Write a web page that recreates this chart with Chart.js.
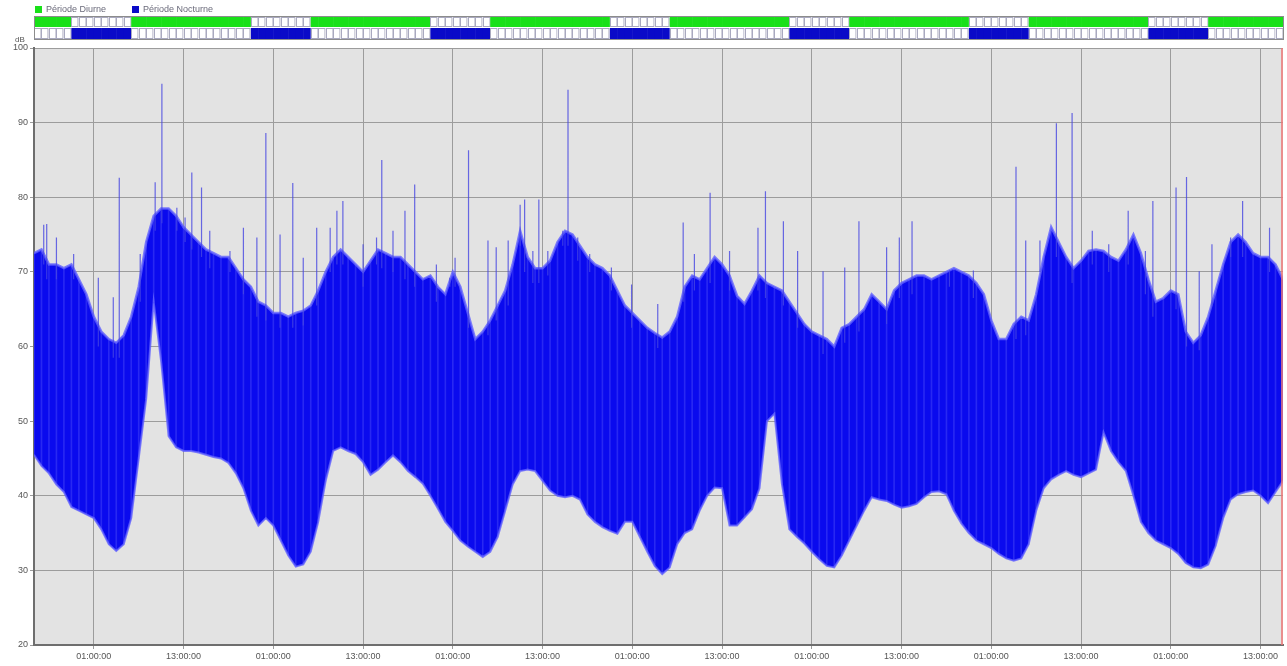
<!DOCTYPE html>
<html>
<head>
<meta charset="utf-8">
<script src="https://cdn.jsdelivr.net/npm/chart.js@4/dist/chart.umd.min.js"></script>
<style>
  html, body { margin: 0; padding: 0; background: #ffffff; }
  #wrap { width: 1287px; height: 666px; position: relative; }
</style>
</head>
<body>
<div id="wrap"><canvas id="c" width="1287" height="666"></canvas></div>
<script>
// Sound level record, one envelope value per hour; hour 0 = 17:00 on the first day.
const levelLow = [
  45.5, 44, 43, 41.5, 40.5, 38.5, 38, 37.5, 37, 35.5,
  33.5, 32.6, 33.5, 37, 45, 53, 66, 58, 48, 46.5,
  46, 46, 45.8, 45.5, 45.2, 45, 44.4, 43, 41, 38,
  36, 37, 36, 34, 32, 30.5, 30.8, 32.5, 36.5, 42,
  46, 46.5, 46, 45.6, 44.5, 42.8, 43.5, 44.5, 45.4, 44.5,
  43.3, 42.5, 41.6, 40, 38.3, 36.5, 35.3, 34, 33.2, 32.5,
  31.8, 32.5, 34.5, 38, 41.5, 43.3, 43.5, 43.3, 42, 40.7,
  40, 39.8, 40, 39.5, 37.5, 36.5, 35.8, 35.3, 34.9, 36.5,
  36.5, 34.5, 32.5, 30.6, 29.5, 30.4, 33.5, 35, 35.5, 38,
  40, 41.1, 41, 36, 36, 37.1, 38.2, 41, 50, 51,
  41.6, 35.5, 34.5, 33.6, 32.5, 31.5, 30.6, 30.4, 32, 34,
  36, 38, 39.8, 39.5, 39.3, 38.8, 38.4, 38.6, 38.9, 39.8,
  40.5, 40.6, 40.2, 38, 36.3, 35, 34, 33.5, 33, 32.2,
  31.6, 31.3, 31.6, 33.5, 38, 41, 42.2, 42.8, 43.3, 42.8,
  42.5, 43, 43.5, 48.5, 46, 44.5, 43.3, 40, 36.5, 35,
  34, 33.5, 33, 32.2, 31, 30.4, 30.3, 30.8, 33.3, 37,
  39.5, 40.2, 40.5, 40.7, 40, 39, 40.5, 42
];
const levelHigh = [
  72.5, 73, 71, 71, 70.5, 71, 69, 67, 64, 62,
  61, 60.5, 61.5, 64, 68, 74, 77.5, 78.5, 78.5, 77.5,
  76, 75, 74, 73, 72.5, 72, 72, 70.5, 69, 68,
  66, 65.5, 64.5, 64.5, 64, 64.5, 64.8, 65.5, 67.5, 70,
  72, 73, 72, 71, 70, 71.5, 73, 72.5, 72, 72,
  71, 70, 69, 69.5, 68, 67, 70, 68, 64.5, 61,
  62, 63.5, 65.5, 67.5, 71, 75.5, 72, 70.5, 70.5, 71.5,
  74, 75.5, 75, 73.5, 72, 71, 70.5, 69.5, 67.5, 65.5,
  64.5, 63.5, 62.5, 61.8, 61.2, 62, 64, 68, 69.5, 69,
  70.5, 72, 71, 69.5, 66.8, 65.7, 67.5, 69.5, 68.5, 68,
  67.5, 66, 64.5, 63, 62, 61.5, 61, 60, 62.5, 63,
  64, 65, 67, 66, 65, 67.5, 68.5, 69, 69.5, 69.5,
  69, 69.5, 70, 70.5, 70, 69.5, 68.5, 67, 63.5, 61,
  61, 63, 64, 63.5, 67, 72, 76, 74, 72, 70.5,
  71.5, 72.8, 73, 72.8, 72, 71.5, 73, 75, 72.5, 69,
  66, 66.5, 67.5, 67, 62, 60.5, 61.5, 64, 67.5, 71,
  74, 75, 74, 72.5, 72, 72, 71, 69
];

// Short noise events rising above the envelope
const peakHours = [
  1.3, 1.7, 3.0, 5.3, 8.6, 10.6, 11.4, 14.2, 16.2, 17.1,
  19.1, 20.2, 21.1, 22.4, 23.5, 26.2, 28, 29.8, 31.0, 32.9,
  34.6, 36, 37.8, 39.6, 40.5, 41.3, 44, 45.8, 46.5, 48,
  49.6, 50.9, 53.8, 55.6, 56.3, 58.1, 60.7, 61.8, 63.4, 65,
  65.6, 66.7, 67.5, 68.7, 70.7, 71.4, 72.7, 74.3, 77.2, 79.9,
  83.4, 86.8, 88.3, 90.4, 93, 96.8, 97.8, 100.2, 102.1, 105.5,
  108.4, 110.3, 114, 115.7, 117.4, 122.4, 125.6, 131.3, 132.6, 134.5,
  136.7, 138.8, 141.5, 143.7, 146.3, 148.6, 149.6, 152.7, 154.1, 155.8,
  157.5, 160, 161.6, 165.2
];
const peakLevels = [
  76.3, 76.4, 74.6, 72.4, 69.2, 66.6, 82.6, 72.4, 82, 95.2,
  78.6, 77.3, 83.3, 81.3, 75.5, 72.8, 75.9, 74.6, 88.6, 75,
  81.9, 71.9, 75.9, 75.9, 78.2, 79.5, 73.7, 74.6, 85, 75.5,
  78.2, 81.7, 71, 69.2, 71.9, 86.3, 74.2, 73.3, 74.2, 79,
  79.7, 72.8, 79.7, 72.8, 75.5, 94.4, 74.6, 72.4, 70.6, 68.3,
  65.7, 76.6, 72.4, 80.6, 72.8, 75.9, 80.8, 76.8, 72.8, 70.1,
  70.6, 76.8, 73.3, 74.6, 76.8, 70.2, 70.2, 84.1, 74.2, 74.2,
  89.9, 91.3, 75.5, 73.7, 78.2, 72.8, 79.5, 81.3, 82.7, 70.1,
  73.7, 74.6, 79.5, 75.9
];

// Time axis ticks (hours from start) and their labels
const tickHours = [8, 20, 32, 44, 56, 68, 80, 92, 104, 116, 128, 140, 152, 164];
const tickLabels = [
  '01:00:00', '13:00:00', '01:00:00', '13:00:00', '01:00:00', '13:00:00', '01:00:00',
  '13:00:00', '01:00:00', '13:00:00', '01:00:00', '13:00:00', '01:00:00', '13:00:00'
];
const yTicks = [20, 30, 40, 50, 60, 70, 80, 90, 100];

// Night periods 22:00 - 06:00, in hours from start
const nightPeriods = [[5, 13], [29, 37], [53, 61], [77, 85], [101, 109], [125, 133], [149, 157]];
const totalHours = 167;
const legendLabels = ['Période Diurne', 'Période Nocturne'];

const BAND_BLUE = 'rgb(10,10,238)';
const EDGE_BLUE = 'rgba(95,95,255,0.8)';
const STREAK_BLUE = 'rgba(120,120,255,0.28)';
const DAY_GREEN = '#19e019';
const NIGHT_BLUE = '#0a0ac8';
const FONT = '"Liberation Sans", Arial, sans-serif';

const lowPts = levelLow.map((v, i) => ({ x: i, y: v }));
const highPts = levelHigh.map((v, i) => ({ x: i, y: v }));
// each hour's range, drawn as a faint lighter trace through the band
const rangePts = levelLow.map((v, i) => ({ x: i, y: [v, levelHigh[i]] }));
const peakPts = [];
peakHours.forEach((h, i) => {
  const base = levelHigh[Math.min(levelHigh.length - 1, Math.round(h))] - 2;
  peakPts.push({ x: h, y: base }, { x: h, y: peakLevels[i] }, { x: h, y: null });
});

const isNight = (h) => nightPeriods.some(([a, b]) => h >= a && h < b);

const plotBackground = {
  id: 'plotBackground',
  beforeDraw(chart) {
    const { ctx, chartArea: a } = chart;
    ctx.save();
    ctx.fillStyle = '#e3e3e3';
    ctx.fillRect(a.left, a.top, a.right - a.left, a.bottom - a.top);
    ctx.restore();
  }
};

const periodStrip = {
  id: 'periodStrip',
  afterDraw(chart) {
    const { ctx, chartArea: a } = chart;
    const xs = chart.scales.x;
    const rowTop = 17, rowMid = 28, rowBot = 39;
    ctx.save();
    for (let h = 0; h < totalHours; h++) {
      const x0 = xs.getPixelForValue(h);
      const x1 = xs.getPixelForValue(h + 1);
      const night = isNight(h);
      // upper row: day periods
      if (!night) {
        ctx.fillStyle = DAY_GREEN;
        ctx.fillRect(x0, rowTop, x1 - x0 + 0.5, rowMid - rowTop - 1);
      } else {
        ctx.fillStyle = '#ffffff';
        ctx.fillRect(x0, rowTop, x1 - x0, rowMid - rowTop - 1);
        ctx.strokeStyle = '#a9a9bf';
        ctx.lineWidth = 1;
        ctx.strokeRect(Math.round(x0) + 0.5, rowTop + 0.5, Math.max(1, x1 - x0 - 1), rowMid - rowTop - 2);
      }
      // lower row: night periods
      if (night) {
        ctx.fillStyle = NIGHT_BLUE;
        ctx.fillRect(x0, rowMid, x1 - x0 + 0.5, rowBot - rowMid);
      } else {
        ctx.fillStyle = '#ffffff';
        ctx.fillRect(x0, rowMid, x1 - x0, rowBot - rowMid);
        ctx.strokeStyle = '#a9a9bf';
        ctx.strokeRect(Math.round(x0) + 0.5, rowMid + 0.5, Math.max(1, x1 - x0 - 1), rowBot - rowMid - 1);
      }
    }
    ctx.strokeStyle = '#8c8c8c';
    ctx.lineWidth = 1;
    ctx.strokeRect(a.left + 0.5, rowTop - 0.5, a.right - a.left, rowBot - rowTop + 1);

    // legend
    ctx.font = '9px ' + FONT;
    ctx.textBaseline = 'middle';
    ctx.textAlign = 'left';
    ctx.fillStyle = DAY_GREEN;
    ctx.fillRect(35, 6, 7, 7);
    ctx.fillStyle = '#6a6a7a';
    ctx.fillText(legendLabels[0], 46, 10);
    ctx.fillStyle = NIGHT_BLUE;
    ctx.fillRect(132, 6, 7, 7);
    ctx.fillStyle = '#6a6a7a';
    ctx.fillText(legendLabels[1], 143, 10);

    // unit label
    ctx.font = '8px ' + FONT;
    ctx.fillStyle = '#555';
    ctx.fillText('dB', 15, 40);

    // right edge marker
    ctx.strokeStyle = 'rgba(235,120,120,0.8)';
    ctx.lineWidth = 2;
    ctx.beginPath();
    ctx.moveTo(a.right - 1, a.top);
    ctx.lineTo(a.right - 1, a.bottom);
    ctx.stroke();
    ctx.restore();
  }
};

new Chart(document.getElementById('c'), {
  type: 'line',
  data: {
    datasets: [
      {
        label: 'pics',
        data: peakPts,
        borderColor: 'rgba(70,70,225,0.8)',
        borderWidth: 1.2,
        pointRadius: 0,
        spanGaps: false,
        fill: false,
        order: 0
      },
      {
        type: 'bar',
        label: 'plage',
        data: rangePts,
        backgroundColor: STREAK_BLUE,
        barThickness: 1,
        borderWidth: 0,
        order: 1
      },
      {
        label: 'min',
        data: lowPts,
        borderColor: EDGE_BLUE,
        borderWidth: 2,
        pointRadius: 0,
        fill: false,
        order: 2
      },
      {
        label: 'max',
        data: highPts,
        borderColor: EDGE_BLUE,
        borderWidth: 2.5,
        pointRadius: 0,
        backgroundColor: BAND_BLUE,
        fill: '-1',
        order: 3
      }
    ]
  },
  options: {
    responsive: false,
    animation: false,
    devicePixelRatio: 1,
    layout: { padding: { left: 0, right: 4, top: 48, bottom: 0 } },
    plugins: { legend: { display: false }, tooltip: { enabled: false } },
    scales: {
      x: {
        type: 'linear',
        offset: false,
        min: 0,
        max: totalHours,
        afterBuildTicks: (s) => { s.ticks = tickHours.map(v => ({ value: v })); },
        afterFit: (s) => { s.height = 21; },
        ticks: {
          autoSkip: false,
          maxRotation: 0,
          padding: 2,
          color: '#555',
          font: { family: FONT, size: 9 },
          callback: (v) => tickLabels[tickHours.indexOf(v)]
        },
        grid: { color: '#9c9c9c', lineWidth: 1, tickLength: 4, drawTicks: true, offset: false },
        border: { color: '#6e6e6e', width: 2 }
      },
      y: {
        min: 20,
        max: 100,
        afterBuildTicks: (s) => { s.ticks = yTicks.map(v => ({ value: v })); },
        afterFit: (s) => { s.width = 34; },
        ticks: {
          padding: 2,
          color: '#555',
          font: { family: FONT, size: 9 }
        },
        grid: { color: '#9c9c9c', lineWidth: 1, tickLength: 4 },
        border: { color: '#6e6e6e', width: 2 }
      }
    }
  },
  plugins: [plotBackground, periodStrip]
});
</script>
</body>
</html>
